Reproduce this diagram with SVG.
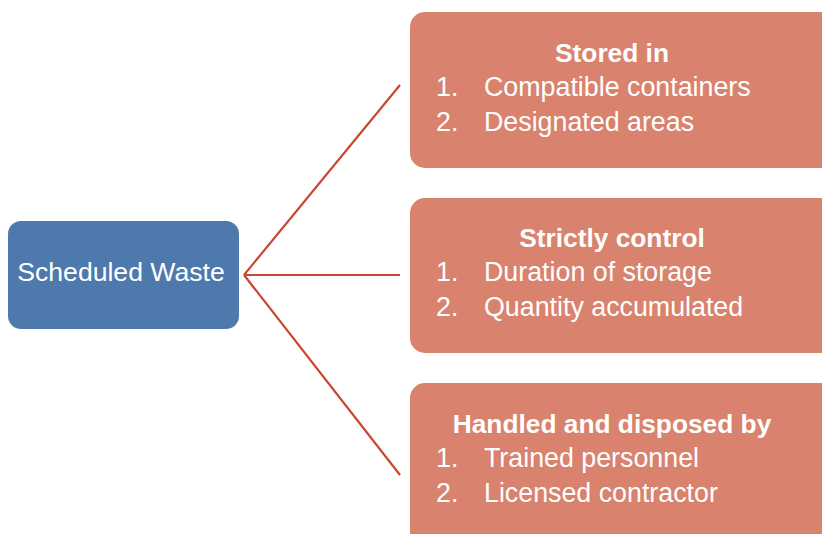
<svg xmlns="http://www.w3.org/2000/svg" width="822" height="534" viewBox="0 0 822 534">
  <style>
    .root { fill: #4E79AC; }
    .box { fill: #D9826E; }
    .link { stroke: #C9472E; stroke-width: 2.2; fill: none; }
    text { font-family: "Liberation Sans", Arial, sans-serif; fill: #FFFFFF; font-size: 26.8px; }
    .title { font-weight: bold; text-anchor: middle; font-size: 26.3px; }
    .rootlabel { text-anchor: middle; font-size: 26.6px; }
  </style>
  <rect width="822" height="534" fill="#FFFFFF"/>

  <g id="connectors">
    <line class="link" x1="244" y1="275" x2="400" y2="85"/>
    <line class="link" x1="244" y1="275" x2="400" y2="275"/>
    <line class="link" x1="244" y1="275" x2="400" y2="475"/>
  </g>

  <g id="scheduled-waste">
    <rect class="root" x="8" y="221" width="231" height="108" rx="13"/>
    <text class="rootlabel" x="121" y="281">Scheduled Waste</text>
  </g>

  <g id="stored-in">
    <rect class="box" x="410" y="12" width="430" height="156" rx="15"/>
    <text class="title" x="612" y="62">Stored in</text>
    <text x="436" y="96">1.</text>
    <text x="484" y="96">Compatible containers</text>
    <text x="436" y="131">2.</text>
    <text x="484" y="131">Designated areas</text>
  </g>

  <g id="strictly-control">
    <rect class="box" x="410" y="198" width="430" height="155" rx="15"/>
    <text class="title" x="612" y="247">Strictly control</text>
    <text x="436" y="281">1.</text>
    <text x="484" y="281">Duration of storage</text>
    <text x="436" y="316">2.</text>
    <text x="484" y="316">Quantity accumulated</text>
  </g>

  <g id="handled-disposed">
    <rect class="box" x="410" y="383" width="430" height="170" rx="15"/>
    <text class="title" x="612" y="433">Handled and disposed by</text>
    <text x="436" y="467">1.</text>
    <text x="484" y="467">Trained personnel</text>
    <text x="436" y="502">2.</text>
    <text x="484" y="502">Licensed contractor</text>
  </g>
</svg>
